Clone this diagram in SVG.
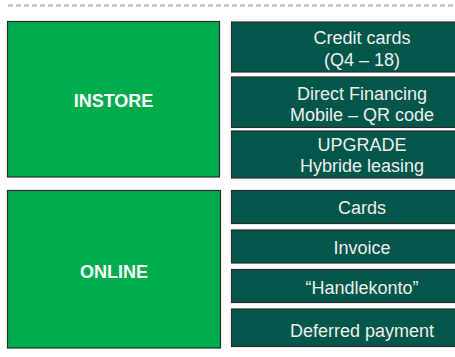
<svg xmlns="http://www.w3.org/2000/svg" width="455" height="357" viewBox="0 0 455 357">
<style>
.main{fill:#00AC4C;stroke:#2a2a2a;stroke-width:1.2}
.sub{fill:#03574A;stroke:#2a2a2a;stroke-width:1.2}
.mt{font-family:"Liberation Sans",Arial,sans-serif;font-size:18px;font-weight:bold;fill:#ffffff;text-anchor:middle}
.st{font-family:"Liberation Sans",Arial,sans-serif;font-size:18px;fill:#eeeeee;text-anchor:middle}
</style>
<rect width="455" height="357" fill="#ffffff"/>
<line x1="8" y1="5.5" x2="455" y2="5.5" stroke="#b4b4b4" stroke-width="2" stroke-dasharray="5,3"/>
<g id="instore"><rect class="main" x="7.5" y="21.5" width="212" height="155.5"/><text class="mt" x="113.5" y="107">INSTORE</text></g>
<g id="credit"><rect class="sub" x="231.5" y="22" width="270" height="50"/><text class="st" x="362" y="43.5">Credit cards</text><text class="st" x="362" y="65.5">(Q4 – 18)</text></g>
<g id="direct"><rect class="sub" x="231.5" y="77" width="270" height="50.5"/><text class="st" x="362" y="99.5">Direct Financing</text><text class="st" x="362" y="121">Mobile – QR code</text></g>
<g id="upgrade"><rect class="sub" x="231.5" y="131" width="270" height="47"/><text class="st" x="362" y="151">UPGRADE</text><text class="st" x="362" y="172">Hybride leasing</text></g>
<g id="online"><rect class="main" x="7.5" y="190.5" width="213" height="157.5"/><text class="mt" x="114" y="277.5">ONLINE</text></g>
<g id="cards"><rect class="sub" x="231.5" y="190.5" width="270" height="33"/><text class="st" x="362" y="214">Cards</text></g>
<g id="invoice"><rect class="sub" x="231.5" y="230" width="270" height="33"/><text class="st" x="362" y="254">Invoice</text></g>
<g id="handlekonto"><rect class="sub" x="231.5" y="269.5" width="270" height="33"/><text class="st" x="362" y="293.5">“Handlekonto”</text></g>
<g id="deferred"><rect class="sub" x="231.5" y="309" width="270" height="37.5"/><text class="st" x="362" y="337">Deferred payment</text></g>
<g id="connectors"/>
</svg>
